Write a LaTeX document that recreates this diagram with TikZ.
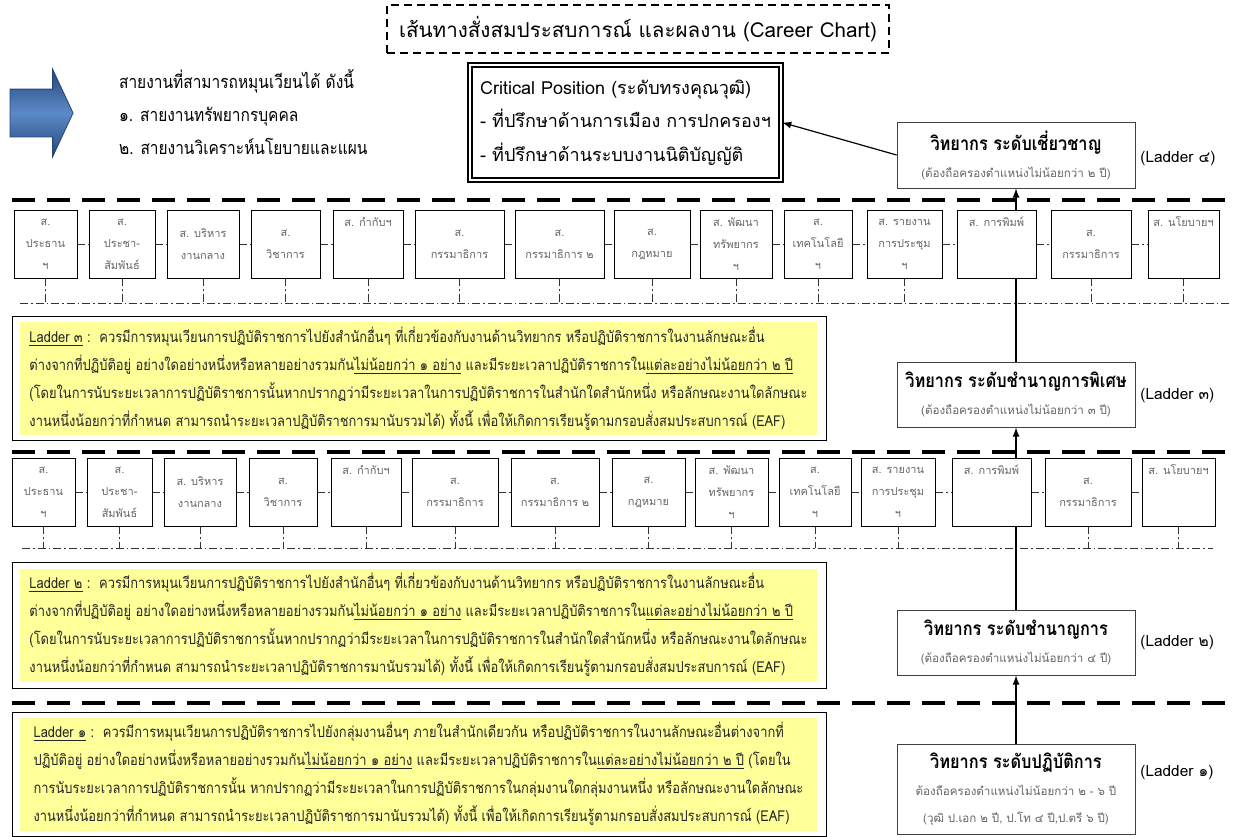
\documentclass[tikz,border=0pt]{standalone}
\usepackage{fontspec}
\setmainfont[Script=Thai]{Loma}
\newfontfamily\narrowfont[Script=Thai,FakeStretch=0.86]{Loma}
\usetikzlibrary{shapes.arrows,backgrounds}

\definecolor{noteyellow}{RGB}{255,255,153}
\definecolor{arrowblue}{RGB}{92,138,200}
\definecolor{arrowdark}{RGB}{36,70,120}

\tikzset{
  office/.style={draw,fill=white,minimum height=34pt,inner sep=1pt,align=center,
    text=black!60,font=\fontsize{5.5}{11}\selectfont},
  rung/.style={draw=black!75,fill=white,minimum width=119pt,align=center,inner sep=2pt,
    font=\narrowfont\fontsize{9.5}{13.5}\selectfont},
  ladderframe/.style={draw,fill=white,minimum width=407pt,minimum height=62pt},
  laddernote/.style={fill=noteyellow,minimum width=398.5pt,minimum height=56.5pt,
    align=left,inner sep=2pt,text=black!85,font=\narrowfont\fontsize{7.5}{14}\selectfont},
  rungtag/.style={anchor=west,inner sep=0pt,font=\fontsize{7.7}{10}\selectfont},
  sepline/.style={line width=2pt,dash pattern=on 11.5pt off 6pt},
  dotline/.style={black!80,line width=0.4pt,dash pattern=on 4pt off 1.5pt on 0.8pt off 1.5pt},
  rise/.style={->,>=latex,line width=0.6pt}
}

\begin{document}
\begin{tikzpicture}[x=0.5pt,y=-0.5pt]
  \useasboundingbox (0,0) rectangle (1237,836);

  % heading
  \node[draw,line width=0.6pt,dash pattern=on 4pt off 2.5pt,minimum width=251pt,minimum height=24pt,
    font=\fontsize{10.3}{12}\selectfont] (title) at (638,29) {เส้นทางสั่งสมประสบการณ์ และผลงาน (Career Chart)};
  \node[single arrow,draw=arrowdark,top color=arrowdark,bottom color=arrowdark,middle color=arrowblue,
    minimum height=31.5pt,single arrow head extend=10pt,single arrow tip angle=130,
    inner xsep=0pt,inner ysep=11.75pt] (bluearrow) at (36,113) {};
  \node[anchor=west,align=left,font=\narrowfont\fontsize{9}{16.5}\selectfont] (routes) at (112,112)
    {สายงานที่สามารถหมุนเวียนได้ ดังนี้\\๑. สายงานทรัพยากรบุคคล\\๒. สายงานวิเคราะห์นโยบายและแผน};
  \node[draw,line width=1.1pt,double=white,double distance=1.2pt,fill=white,minimum width=155.5pt,
    minimum height=57.5pt,align=left,font=\fontsize{9}{16.75}\selectfont] (crit) at (625.5,122.5)
    {Critical Position (ระดับทรงคุณวุฒิ)\\- ที่ปรึกษาด้านการเมือง การปกครองฯ\\- ที่ปรึกษาด้านระบบงานนิติบัญญัติ};

  % ladder 4
  \node[rung,minimum height=33pt] (l4) at (1016,155)
    {{\bfseries วิทยากร ระดับเชี่ยวชาญ}\\{\normalfont\fontsize{5.8}{8}\selectfont\color{black!60}(ต้องถือครองตำแหน่งไม่น้อยกว่า ๒ ปี)}};
  \node[rungtag] (tag4) at (1140,159) {(Ladder ๔)};
  \draw[sepline] (12,200) -- (1225,200);

  % row 3
  \node[office,minimum width=31.5pt] (pres3) at (45.5,244) {ส.\\ประธาน\\ฯ};
  \node[office,minimum width=33pt] (pubrel3) at (122,244) {ส.\\ประชา-\\สัมพันธ์};
  \node[office,minimum width=36pt] (admin3) at (203,244) {ส. บริหาร\\งานกลาง};
  \node[office,minimum width=34.5pt] (acad3) at (285.5,244) {ส.\\วิชาการ};
  \node[office,minimum width=35pt] (superv3) at (368,244) {ส. กำกับฯ\\~\\~};
  \node[office,minimum width=44.5pt] (comm3) at (459.5,244) {ส.\\กรรมาธิการ};
  \node[office,minimum width=44.5pt] (commtwo3) at (559.5,244) {ส.\\กรรมาธิการ ๒};
  \node[office,minimum width=38pt] (law3) at (652,244) {ส.\\กฎหมาย};
  \node[office,minimum width=36pt] (hrd3) at (736,244) {ส. พัฒนา\\ทรัพยากร\\ฯ};
  \node[office,minimum width=34pt] (tech3) at (818,244) {ส.\\เทคโนโลยี\\ฯ};
  \node[office,minimum width=37.5pt] (report3) at (904.5,244) {ส. รายงาน\\การประชุม\\ฯ};
  \node[office,minimum width=39.5pt] (print3) at (996.5,244) {ส. การพิมพ์\\~\\~};
  \node[office,minimum width=40pt] (commb3) at (1091,244) {ส.\\กรรมาธิการ};
  \node[office,minimum width=35.5pt] (policy3) at (1183.5,244) {ส. นโยบายฯ\\~\\~};
  \coordinate (base3w) at (20,303);
  \coordinate (base3e) at (1232,303);

  % ladder 3
  \node[ladderframe] (frame3) at (419,378) {};
  \node[laddernote] (note3) at (418.5,378.5)
    {\underline{Ladder ๓} :\ \ ควรมีการหมุนเวียนการปฏิบัติราชการไปยังสำนักอื่นๆ ที่เกี่ยวข้องกับงานด้านวิทยากร หรือปฏิบัติราชการในงานลักษณะอื่น\\
     ต่างจากที่ปฏิบัติอยู่ อย่างใดอย่างหนึ่งหรือหลายอย่างรวมกัน\underline{ไม่น้อยกว่า ๑ อย่าง} และมีระยะเวลาปฏิบัติราชการใน\underline{แต่ละอย่างไม่น้อยกว่า ๒ ปี}\\
     (โดยในการนับระยะเวลาการปฏิบัติราชการนั้นหากปรากฏว่ามีระยะเวลาในการปฏิบัติราชการในสำนักใดสำนักหนึ่ง หรือลักษณะงานใดลักษณะ\\
     งานหนึ่งน้อยกว่าที่กำหนด สามารถนำระยะเวลาปฏิบัติราชการมานับรวมได้) ทั้งนี้ เพื่อให้เกิดการเรียนรู้ตามกรอบสั่งสมประสบการณ์ (EAF)};
  \node[rung,minimum height=32.5pt] (l3) at (1016,394.5)
    {{\bfseries วิทยากร ระดับชำนาญการพิเศษ}\\{\normalfont\fontsize{5.8}{8}\selectfont\color{black!60}(ต้องถือครองตำแหน่งไม่น้อยกว่า ๓ ปี)}};
  \node[rungtag] (tag3) at (1140,396) {(Ladder ๓)};
  \draw[sepline] (12,452) -- (1225,452);

  % row 2
  \node[office,minimum width=31.5pt] (pres2) at (43.5,492) {ส.\\ประธาน\\ฯ};
  \node[office,minimum width=32.5pt] (pubrel2) at (119.5,492) {ส.\\ประชา-\\สัมพันธ์};
  \node[office,minimum width=36pt] (admin2) at (200,492) {ส. บริหาร\\งานกลาง};
  \node[office,minimum width=34pt] (acad2) at (283,492) {ส.\\วิชาการ};
  \node[office,minimum width=35pt] (superv2) at (366,492) {ส. กำกับฯ\\~\\~};
  \node[office,minimum width=43pt] (comm2) at (455,492) {ส.\\กรรมาธิการ};
  \node[office,minimum width=44pt] (commtwo2) at (555,492) {ส.\\กรรมาธิการ ๒};
  \node[office,minimum width=36.5pt] (law2) at (648.5,492) {ส.\\กฎหมาย};
  \node[office,minimum width=36.5pt] (hrd2) at (731.5,492) {ส. พัฒนา\\ทรัพยากร\\ฯ};
  \node[office,minimum width=36pt] (tech2) at (815,492) {ส.\\เทคโนโลยี\\ฯ};
  \node[office,minimum width=37pt] (report2) at (898,492) {ส. รายงาน\\การประชุม\\ฯ};
  \node[office,minimum width=39.5pt] (print2) at (991.5,492) {ส. การพิมพ์\\~\\~};
  \node[office,minimum width=43pt] (commb2) at (1088,492) {ส.\\กรรมาธิการ};
  \node[office,minimum width=36.5pt] (policy2) at (1178.5,492) {ส. นโยบายฯ\\~\\~};
  \coordinate (base2w) at (22,548);
  \coordinate (base2e) at (1213,548);

  % ladder 2
  \node[ladderframe,minimum height=63pt] (frame2) at (419,625) {};
  \node[laddernote] (note2) at (418.5,625)
    {\underline{Ladder ๒} :\ \ ควรมีการหมุนเวียนการปฏิบัติราชการไปยังสำนักอื่นๆ ที่เกี่ยวข้องกับงานด้านวิทยากร หรือปฏิบัติราชการในงานลักษณะอื่น\\
     ต่างจากที่ปฏิบัติอยู่ อย่างใดอย่างหนึ่งหรือหลายอย่างรวมกัน\underline{ไม่น้อยกว่า ๑ อย่าง} และมีระยะเวลาปฏิบัติราชการใน\underline{แต่ละอย่างไม่น้อยกว่า ๒ ปี}\\
     (โดยในการนับระยะเวลาการปฏิบัติราชการนั้นหากปรากฏว่ามีระยะเวลาในการปฏิบัติราชการในสำนักใดสำนักหนึ่ง หรือลักษณะงานใดลักษณะ\\
     งานหนึ่งน้อยกว่าที่กำหนด สามารถนำระยะเวลาปฏิบัติราชการมานับรวมได้) ทั้งนี้ เพื่อให้เกิดการเรียนรู้ตามกรอบสั่งสมประสบการณ์ (EAF)};
  \node[rung,minimum height=32.5pt] (l2) at (1016,642.5)
    {{\bfseries วิทยากร ระดับชำนาญการ}\\{\normalfont\fontsize{5.8}{8}\selectfont\color{black!60}(ต้องถือครองตำแหน่งไม่น้อยกว่า ๔ ปี)}};
  \node[rungtag] (tag2) at (1140,643) {(Ladder ๒)};
  \draw[sepline] (12,703) -- (1225,703);

  % ladder 1
  \node[ladderframe] (frame1) at (419,774) {};
  \node[laddernote] (note1) at (418.5,774)
    {\underline{Ladder ๑} :\ \ ควรมีการหมุนเวียนการปฏิบัติราชการไปยังกลุ่มงานอื่นๆ ภายในสำนักเดียวกัน หรือปฏิบัติราชการในงานลักษณะอื่นต่างจากที่\\
     ปฏิบัติอยู่ อย่างใดอย่างหนึ่งหรือหลายอย่างรวมกัน\underline{ไม่น้อยกว่า ๑ อย่าง} และมีระยะเวลาปฏิบัติราชการใน\underline{แต่ละอย่างไม่น้อยกว่า ๒ ปี} (โดยใน\\
     การนับระยะเวลาการปฏิบัติราชการนั้น หากปรากฏว่ามีระยะเวลาในการปฏิบัติราชการในกลุ่มงานใดกลุ่มงานหนึ่ง หรือลักษณะงานใดลักษณะ\\
     งานหนึ่งน้อยกว่าที่กำหนด สามารถนำระยะเวลาปฏิบัติราชการมานับรวมได้) ทั้งนี้ เพื่อให้เกิดการเรียนรู้ตามกรอบสั่งสมประสบการณ์ (EAF)};
  \node[rung,minimum height=45pt] (l1) at (1016,789)
    {{\bfseries วิทยากร ระดับปฏิบัติการ}\\{\normalfont\fontsize{5.8}{8}\selectfont\color{black!60}ต้องถือครองตำแหน่งไม่น้อยกว่า ๒ - ๖ ปี}\\{\normalfont\fontsize{5.8}{8}\selectfont\color{black!60}(วุฒิ ป.เอก ๒ ปี, ป.โท ๔ ปี,ป.ตรี ๖ ปี)}};
  \node[rungtag] (tag1) at (1140,773) {(Ladder ๑)};

  % links
  \begin{scope}[on background layer]
    \draw[rise] (l4.west) -- (crit.east);
    \draw[rise] (l3) -- (l4);
    \draw[rise] (l2) -- (l3);
    \draw[rise] (l1) -- (l2);
    % row 3 links
    \draw[dotline] (base3w) -- (base3e);
    \draw[dotline] (pres3) -- (pubrel3);
    \draw[dotline] (pubrel3) -- (admin3);
    \draw[dotline] (admin3) -- (acad3);
    \draw[dotline] (acad3) -- (superv3);
    \draw[dotline] (superv3) -- (comm3);
    \draw[dotline] (comm3) -- (commtwo3);
    \draw[dotline] (commtwo3) -- (law3);
    \draw[dotline] (law3) -- (hrd3);
    \draw[dotline] (hrd3) -- (tech3);
    \draw[dotline] (tech3) -- (report3);
    \draw[dotline] (report3) -- (print3);
    \draw[dotline] (print3) -- (commb3);
    \draw[dotline] (commb3) -- (policy3);
    \draw[dotline] (pres3) -- (pres3 |- base3w);
    \draw[dotline] (pubrel3) -- (pubrel3 |- base3w);
    \draw[dotline] (admin3) -- (admin3 |- base3w);
    \draw[dotline] (acad3) -- (acad3 |- base3w);
    \draw[dotline] (superv3) -- (superv3 |- base3w);
    \draw[dotline] (comm3) -- (comm3 |- base3w);
    \draw[dotline] (commtwo3) -- (commtwo3 |- base3w);
    \draw[dotline] (law3) -- (law3 |- base3w);
    \draw[dotline] (hrd3) -- (hrd3 |- base3w);
    \draw[dotline] (tech3) -- (tech3 |- base3w);
    \draw[dotline] (report3) -- (report3 |- base3w);
    \draw[dotline] (commb3) -- (commb3 |- base3w);
    \draw[dotline] (policy3) -- (policy3 |- base3w);
    % row 2 links
    \draw[dotline] (base2w) -- (base2e);
    \draw[dotline] (pres2) -- (pubrel2);
    \draw[dotline] (pubrel2) -- (admin2);
    \draw[dotline] (admin2) -- (acad2);
    \draw[dotline] (acad2) -- (superv2);
    \draw[dotline] (superv2) -- (comm2);
    \draw[dotline] (comm2) -- (commtwo2);
    \draw[dotline] (commtwo2) -- (law2);
    \draw[dotline] (law2) -- (hrd2);
    \draw[dotline] (hrd2) -- (tech2);
    \draw[dotline] (tech2) -- (report2);
    \draw[dotline] (report2) -- (print2);
    \draw[dotline] (print2) -- (commb2);
    \draw[dotline] (commb2) -- (policy2);
    \draw[dotline] (pres2) -- (pres2 |- base2w);
    \draw[dotline] (pubrel2) -- (pubrel2 |- base2w);
    \draw[dotline] (admin2) -- (admin2 |- base2w);
    \draw[dotline] (acad2) -- (acad2 |- base2w);
    \draw[dotline] (superv2) -- (superv2 |- base2w);
    \draw[dotline] (comm2) -- (comm2 |- base2w);
    \draw[dotline] (commtwo2) -- (commtwo2 |- base2w);
    \draw[dotline] (law2) -- (law2 |- base2w);
    \draw[dotline] (hrd2) -- (hrd2 |- base2w);
    \draw[dotline] (tech2) -- (tech2 |- base2w);
    \draw[dotline] (report2) -- (report2 |- base2w);
    \draw[dotline] (commb2) -- (commb2 |- base2w);
    \draw[dotline] (policy2) -- (policy2 |- base2w);
  \end{scope}
\end{tikzpicture}
\end{document}
